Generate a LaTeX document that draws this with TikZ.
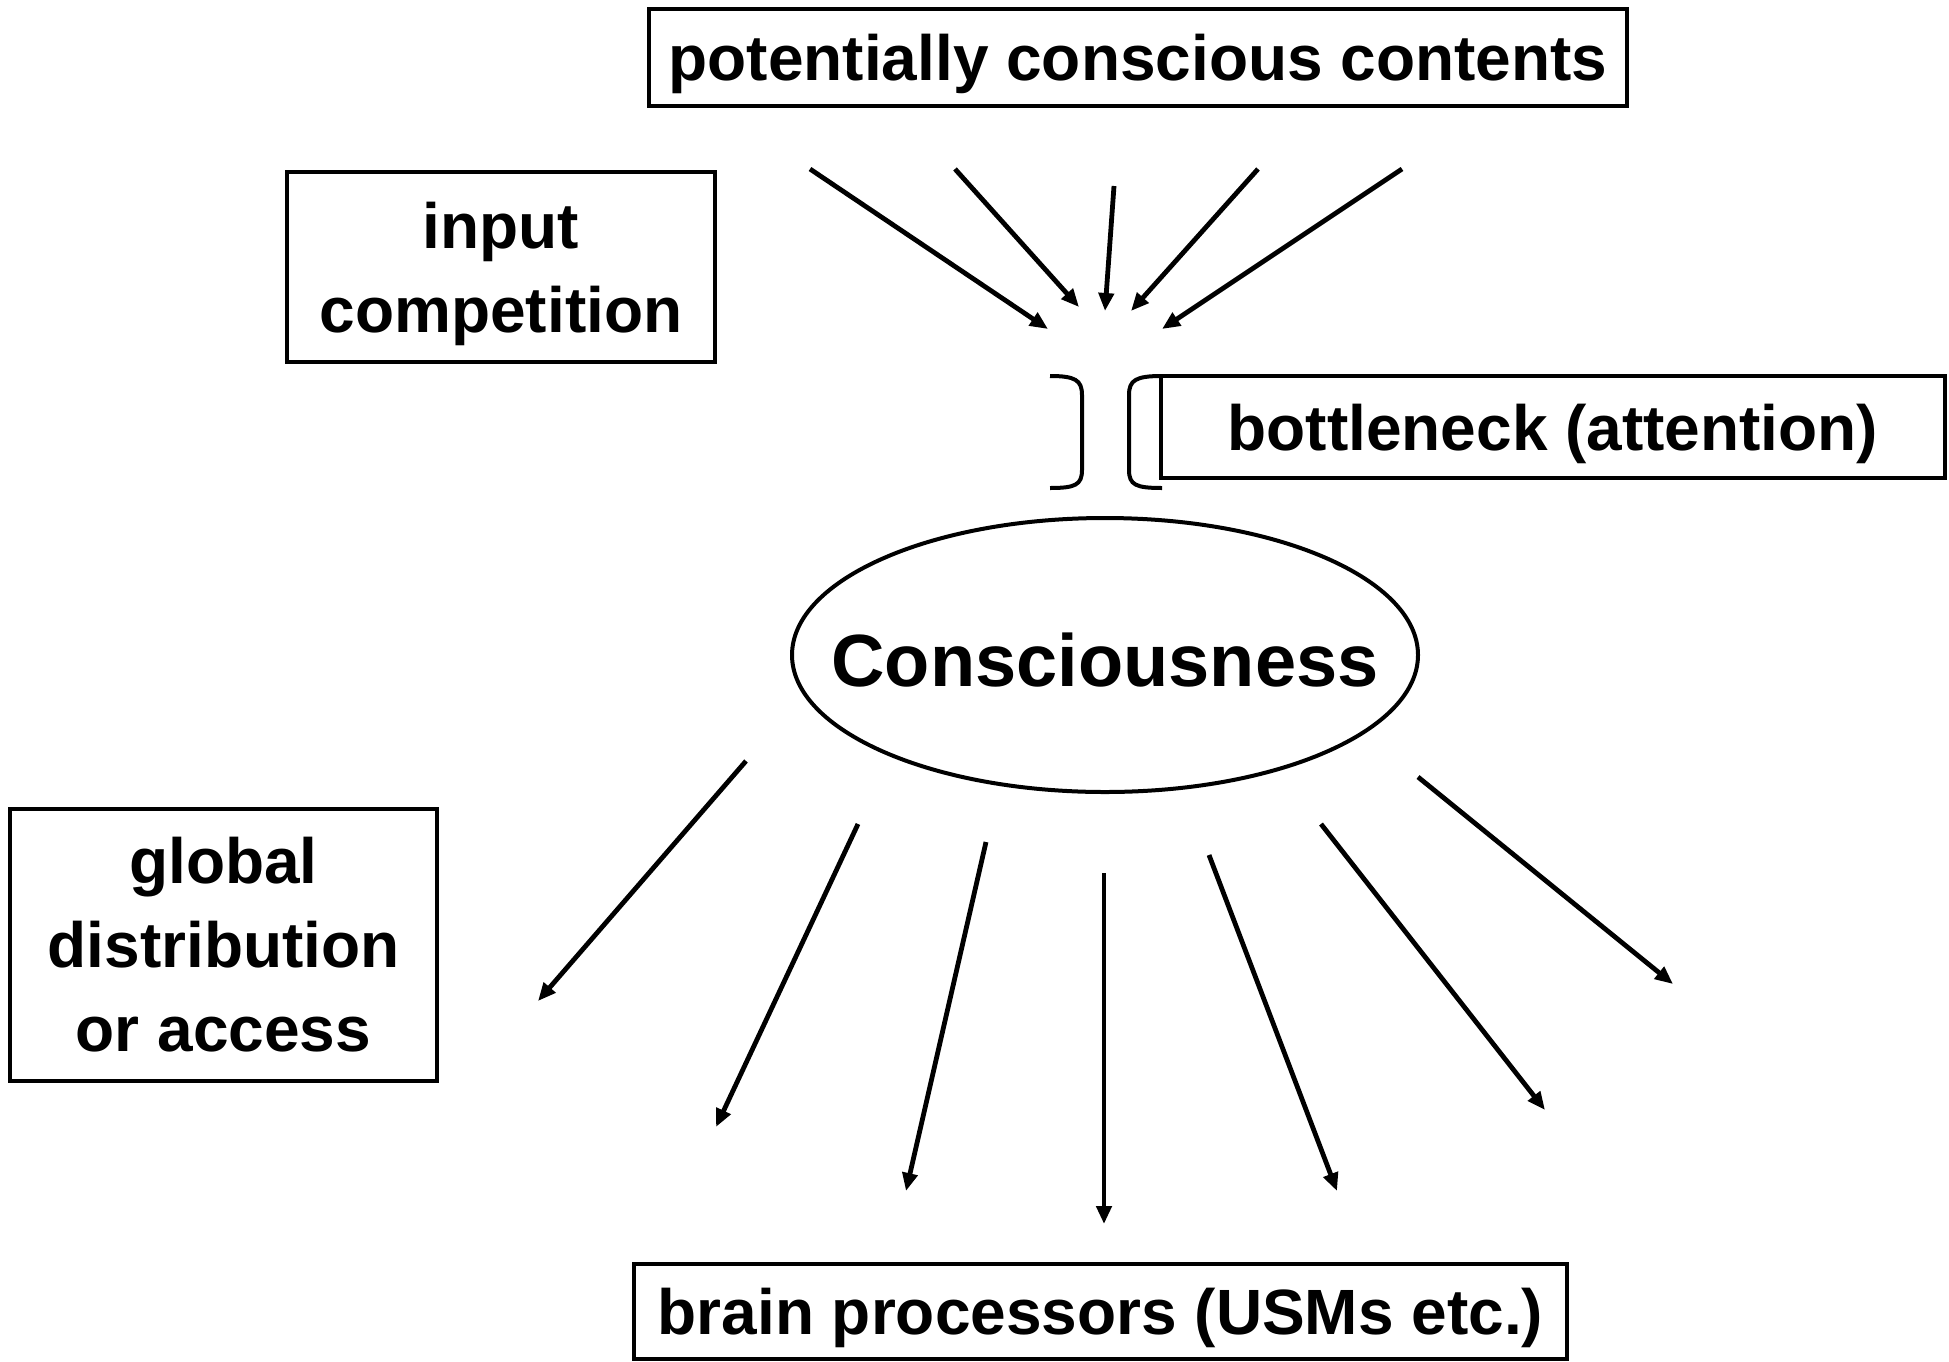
\documentclass[tikz,border=0pt]{standalone}
\usepackage{fontspec}
\setmainfont{Liberation Sans}
\usetikzlibrary{arrows.meta}
\tikzset{
  lbl/.style={draw=black, line width=2pt, inner sep=0pt, align=center,
    font=\fontsize{32}{42}\selectfont\bfseries},
  arr/.style={line width=2.4pt, -{Triangle[length=9pt,width=7.5pt]}},
  brk/.style={line width=2pt}
}
\begin{document}
\begin{tikzpicture}[x=0.5pt,y=-0.5pt]
\useasboundingbox[fill=white] (0,0) rectangle (1949,1361);
% boxes
\node[lbl, text depth=0pt, minimum width=489pt, minimum height=48.5pt] (pcc) at (1138,57.5) {potentially conscious contents};
\node[lbl, text depth=0pt, minimum width=214pt, minimum height=95pt] (inp) at (501,267) {input\\competition};
\node[lbl, text depth=0pt, minimum width=392pt, minimum height=51pt] (bot) at (1553,427) {bottleneck (attention)};
\node[lbl, minimum width=213.5pt, minimum height=136pt] (glob) at (223.5,945) {global\\distribution\\or access};
\node[lbl, text depth=0pt, minimum width=466.5pt, minimum height=47.5pt] (brain) at (1100.5,1311) {brain processors (USMs etc.)};
% ellipse
\draw[line width=2pt] (1105,655) ellipse [x radius=313, y radius=137];
\node[font=\fontsize{37}{44}\selectfont\bfseries] (cons) at (1105,660) {Consciousness};
% brackets
\draw[brk] (1050,376) .. controls (1075,376) and (1082,380) .. (1082,395) -- (1082,470) .. controls (1082,485) and (1075,488) .. (1050,488);
\draw[brk] (1162,376) .. controls (1136,376) and (1129,380) .. (1129,395) -- (1129,470) .. controls (1129,485) and (1136,488) .. (1162,488);
% top arrow coordinates
\coordinate (t1s) at (810,169);  \coordinate (t1e) at (1048,329);
\coordinate (t2s) at (955,169);  \coordinate (t2e) at (1079,307);
\coordinate (t3s) at (1114,186); \coordinate (t3e) at (1105,311);
\coordinate (t4s) at (1258,169); \coordinate (t4e) at (1131,311);
\coordinate (t5s) at (1402,169); \coordinate (t5e) at (1162,329);
\foreach \i in {1,...,5} { \draw[arr] (t\i s) -- (t\i e); }
% bottom arrow coordinates
\coordinate (b1s) at (746,761);  \coordinate (b1e) at (538,1001);
\coordinate (b2s) at (858,824);  \coordinate (b2e) at (716,1127);
\coordinate (b3s) at (986,842);  \coordinate (b3e) at (906,1191);
\coordinate (b4s) at (1104,873); \coordinate (b4e) at (1104,1224);
\coordinate (b5s) at (1209,855); \coordinate (b5e) at (1337,1191);
\coordinate (b6s) at (1321,824); \coordinate (b6e) at (1545,1110);
\coordinate (b7s) at (1418,777); \coordinate (b7e) at (1673,984);
\foreach \i in {1,...,7} { \draw[arr] (b\i s) -- (b\i e); }
\end{tikzpicture}
\end{document}
